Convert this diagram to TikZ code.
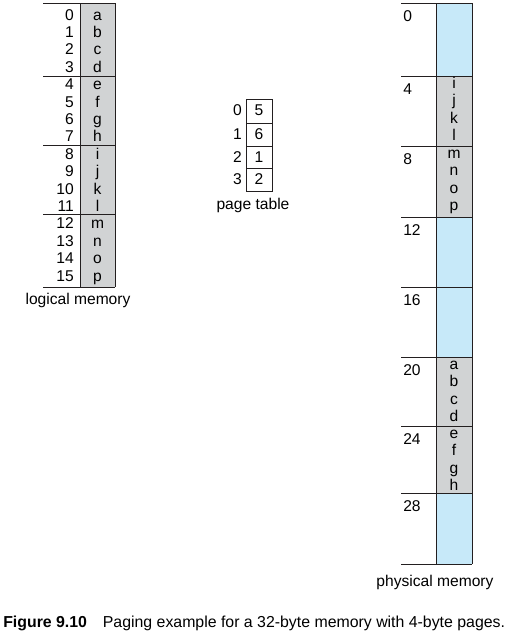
\documentclass[tikz,border=0pt]{standalone}
\usepackage{fontspec}
\setmainfont{Liberation Sans}
\usetikzlibrary{positioning}
\definecolor{pagegray}{RGB}{209,211,212}
\definecolor{frameblue}{RGB}{199,233,249}
\definecolor{rulegray}{RGB}{35,31,32}

\begin{document}
\begin{tikzpicture}[x=0.75pt, y=-0.75pt,
    txt/.style={font=\fontsize{11.7}{13}\selectfont, inner sep=0pt},
    rule/.style={draw=rulegray, line width=0.7pt}]
    \useasboundingbox (0,0) rectangle (523,640);

    % Logical memory (16 bytes, 4 pages)
    \fill[pagegray] (80,3) rectangle (115,287);
    \foreach \y in {3,76,145,214,287}
        \draw[rule] (43,\y) -- (115,\y);
    \draw[rule] (80,3) -- (80,287);
    \draw[rule] (115,3) -- (115,287);
    \foreach \i/\c in {0/a,1/b,2/c,3/d,4/e,5/f,6/g,7/h,8/i,9/j,10/k,11/l,12/m,13/n,14/o,15/p} {
        \node[txt, anchor=base east] (laddr\i) at (74,20+17.4*\i) {\i};
        \node[txt, anchor=base] (lbyte\i) at (97.5,20+17.4*\i) {\c};
    }
    \node[txt] (lname) at (78,300) {logical memory};

    % Page table
    \foreach \i/\f/\t/\b in {0/5/99/123,1/6/123/146,2/1/146/168,3/2/168/191} {
        \draw[rule] (246,\t) rectangle (272,\b);
        \node[txt, anchor=base] (pframe\i) at (259,\t+16.5) {\f};
        \node[txt, anchor=base east] (ppage\i) at (242,\t+16.5) {\i};
    }
    \node[txt] (pname) at (253,205) {page table};

    % Physical memory (8 frames)
    \foreach \k/\t/\b/\col in {0/3/76/frameblue,1/76/146/pagegray,2/146/217/pagegray,3/217/287/frameblue,
                               4/287/357/frameblue,5/357/426/pagegray,6/426/493/pagegray,7/493/564/frameblue} {
        \fill[\col] (436,\t) rectangle (472,\b);
        \draw[rule] (401,\t) -- (472,\t);
        \pgfmathtruncatemacro{\addr}{4*\k}
        \node[txt, anchor=base west] (faddr\k) at (403,\t+18) {\addr};
    }
    \draw[rule] (401,564) -- (472,564);
    \draw[rule] (436,3) -- (436,564);
    \draw[rule] (472,3) -- (472,564);
    \foreach \t/\w/\x/\y/\z in {76/i/j/k/l,146/m/n/o/p,357/a/b/c/d,426/e/f/g/h} {
        \node[txt, anchor=base] (fb\w) at (454,\t+12) {\w};
        \node[txt, anchor=base] (fb\x) at (454,\t+29.5) {\x};
        \node[txt, anchor=base] (fb\y) at (454,\t+47) {\y};
        \node[txt, anchor=base] (fb\z) at (454,\t+64.5) {\z};
    }
    \node[txt] (fname) at (435,582) {physical memory};

    % Caption
    \node[txt, anchor=west, font=\fontsize{11.9}{14}\selectfont] (caption) at (3,623)
        {\textbf{Figure 9.10}\hspace{1em}Paging example for a 32-byte memory with 4-byte pages.};
\end{tikzpicture}
\end{document}
